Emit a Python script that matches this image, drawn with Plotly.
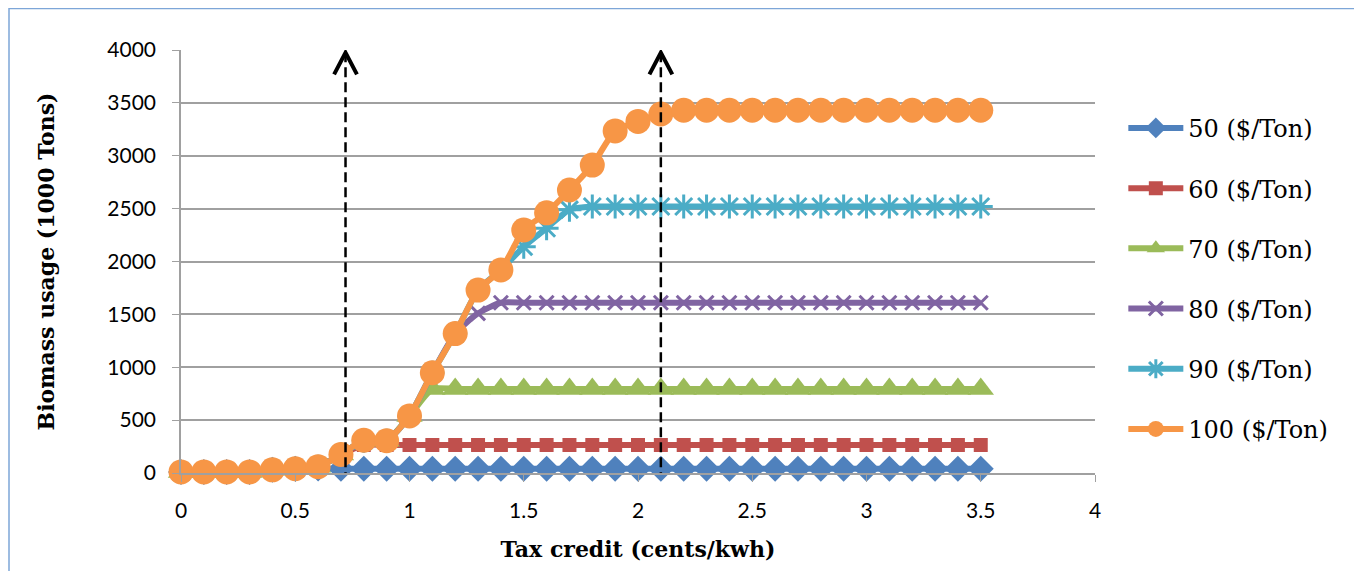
import plotly.graph_objects as go

# ---- data ----
tax_credit = [round(i * 0.1, 1) for i in range(36)]  # 0.0 .. 3.5 cents/kwh

usage_50 = [10, 10, 10, 10, 30, 40, 42, 40, 40, 40, 40, 40, 40, 40, 40, 40, 40, 40,
            40, 40, 40, 40, 40, 40, 40, 40, 40, 40, 40, 40, 40, 40, 40, 40, 40, 40]
usage_60 = [10, 10, 10, 10, 30, 40, 60, 175, 265, 265, 265, 265, 265, 265, 265, 265, 265, 265,
            265, 265, 265, 265, 265, 265, 265, 265, 265, 265, 265, 265, 265, 265, 265, 265, 265, 265]
usage_70 = [10, 10, 10, 10, 30, 40, 60, 175, 305, 305, 540, 795, 795, 795, 795, 795, 795, 795,
            795, 795, 795, 795, 795, 795, 795, 795, 795, 795, 795, 795, 795, 795, 795, 795, 795, 795]
usage_80 = [10, 10, 10, 10, 30, 40, 60, 175, 305, 305, 540, 948, 1318, 1510, 1610, 1610, 1610, 1610,
            1610, 1610, 1610, 1610, 1610, 1610, 1610, 1610, 1610, 1610, 1610, 1610, 1610, 1610, 1610, 1610, 1610, 1610]
usage_90 = [10, 10, 10, 10, 30, 40, 60, 175, 305, 305, 540, 948, 1318, 1730, 1920, 2140, 2315, 2490,
            2520, 2520, 2520, 2520, 2520, 2520, 2520, 2520, 2520, 2520, 2520, 2520, 2520, 2520, 2520, 2520, 2520, 2520]
usage_100 = [10, 10, 10, 10, 30, 40, 60, 175, 310, 305, 540, 948, 1318, 1730, 1920, 2298, 2460, 2676,
             2912, 3235, 3325, 3395, 3430, 3430, 3430, 3430, 3430, 3430, 3430, 3430, 3430, 3430, 3430, 3430, 3430, 3430]

series_names = ["50 ($/Ton)", "60 ($/Ton)", "70 ($/Ton)", "80 ($/Ton)", "90 ($/Ton)", "100 ($/Ton)"]
series_values = [usage_50, usage_60, usage_70, usage_80, usage_90, usage_100]

x_ticks = [0, 0.5, 1, 1.5, 2, 2.5, 3, 3.5, 4]
x_tick_labels = ["0", "0.5", "1", "1.5", "2", "2.5", "3", "3.5", "4"]
y_ticks = [0, 500, 1000, 1500, 2000, 2500, 3000, 3500, 4000]

arrow_positions = [0.72, 2.10]  # tax credit thresholds marked by dashed arrows

# ---- styles ----
colors = ["#4F81BD", "#C0504D", "#9BBB59", "#8064A2", "#4BACC6", "#F79646"]
symbols = ["diamond", "square", "triangle-up", "x-thin-open", "asterisk-open", "circle"]
sizes = [20, 14, 23, 14, 20, 25]

fig = go.Figure()
for i, (name, vals) in enumerate(zip(series_names, series_values)):
    open_sym = symbols[i].endswith("open")
    fig.add_trace(go.Scatter(
        x=tax_credit, y=vals, name=name, mode="lines+markers",
        legendgroup=name,
        line=dict(color=colors[i], width=6, shape="spline", smoothing=0.6),
        marker=dict(symbol=symbols[i], size=sizes[i], color=colors[i],
                    line=dict(color=colors[i], width=3 if open_sym else 0)),
        cliponaxis=False,
    ))

shapes = []
for ax in arrow_positions:
    shapes.append(dict(type="line", xref="x", yref="y", x0=ax, x1=ax, y0=-230, y1=3975,
                       line=dict(color="black", width=2.5, dash="10px,5px")))
    shapes.append(dict(type="path", xref="x", yref="y",
                       path=f"M{ax-0.05},3770 L{ax},3975 L{ax+0.05},3770",
                       line=dict(color="black", width=4)))
    shapes.append(dict(type="path", xref="x", yref="y",
                       path=f"M{ax-0.05},-40 L{ax},-240 L{ax+0.05},-40",
                       line=dict(color="black", width=4)))

# The page body has an 8 px margin, so the figure is shifted by 8 px.
OFF = 8
W, H = 1362 - OFF, 571 - OFF
L, T = 181 - OFF, 50 - OFF
PW, PH = 914, 423
# outer chart border
shapes.append(dict(type="rect", xref="paper", yref="paper",
                   x0=(9 - 181) / PW, x1=(1358 - 181) / PW,
                   y0=(473 - 585) / PH, y1=(473 - 8.5) / PH,
                   line=dict(color="#7DA6D8", width=1.5), layer="below"))

fig.update_layout(
    width=W, height=H,
    margin=dict(l=L, r=W - L - PW, t=T, b=H - T - PH),
    paper_bgcolor="white", plot_bgcolor="white",
    showlegend=True,
    legend=dict(x=1.031, y=0.868, xanchor="left", yanchor="top",
                font=dict(family="DejaVu Serif", size=24, color="black"),
                itemwidth=55, tracegroupgap=26, traceorder="grouped",
                bgcolor="rgba(0,0,0,0)"),
    shapes=shapes,
    font=dict(family="Lato", color="black"),
)
fig.update_xaxes(
    range=[0, 4], tickvals=x_ticks, ticktext=x_tick_labels,
    showgrid=False, zeroline=False,
    showline=True, linecolor="#A0A0A0", linewidth=1.5,
    ticks="outside", ticklen=7, tickcolor="#A0A0A0",
    ticklabelstandoff=11,
    tickfont=dict(family="Lato", size=21, color="black"),
    title=dict(text="<b>Tax credit (cents/kwh)</b>", standoff=21,
               font=dict(family="DejaVu Serif", size=22, color="black")),
    automargin=False,
)
fig.update_yaxes(
    range=[0, 4000], tickvals=y_ticks,
    showgrid=True, gridcolor="#A0A0A0", gridwidth=1.5, zeroline=False,
    showline=True, linecolor="#A0A0A0", linewidth=1.5,
    ticks="outside", ticklen=7, tickcolor="#A0A0A0",
    ticklabelstandoff=12,
    tickfont=dict(family="Lato", size=21, color="black"),
    title=dict(text="<b>Biomass usage (1000 Tons)</b>", standoff=47,
               font=dict(family="DejaVu Serif", size=22, color="black")),
    automargin=False,
)

fig.write_html("out.html")
